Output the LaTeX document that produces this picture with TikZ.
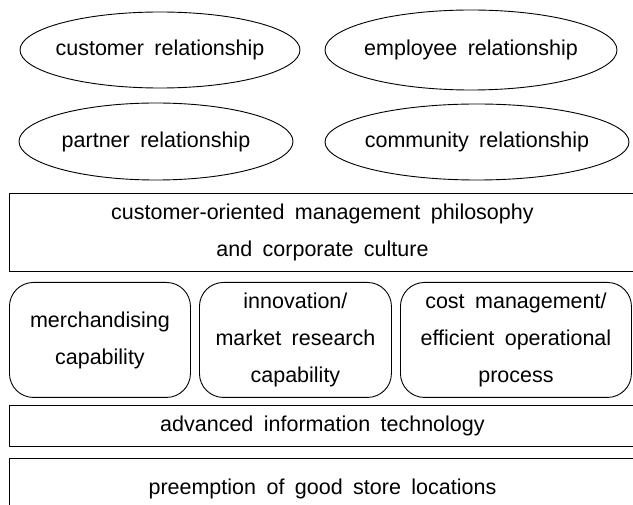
\documentclass[tikz,border=0pt]{standalone}
\usepackage{fontspec}
\setmainfont[WordSpace=1.75]{Liberation Sans}
\usetikzlibrary{shapes.geometric}
\begin{document}
\begin{tikzpicture}[x=1pt,y=-1pt,
  every node/.style={font=\fontsize{21.5}{37}\selectfont, inner sep=0pt},
  elli/.style={draw, line width=0.9pt, ellipse},
  band/.style={draw, line width=0.9pt, rectangle, anchor=north west, minimum width=626pt, align=center},
  capbox/.style={draw, line width=0.9pt, rectangle, rounded corners=24pt, anchor=north west, minimum height=115pt, align=center}
]
\useasboundingbox (0,0) rectangle (633,505);
\clip (0,0) rectangle (633,505);
\fill[white] (0,0) rectangle (633,505);

\node[elli, minimum width=280pt, minimum height=76pt] (cust) at (160,50) {\makebox[0pt]{customer relationship}};
\node[elli, minimum width=292pt, minimum height=80pt] (empl) at (471,50) {\makebox[0pt]{employee relationship}};
\node[elli, minimum width=274pt, minimum height=77pt] (part) at (156,141.5) {\makebox[0pt]{partner relationship}};
\node[elli, minimum width=304pt, minimum height=76pt] (comm) at (477,142) {\makebox[0pt]{community relationship}};

\node[band, minimum height=78pt] (phil) at (9,193) {customer-oriented management philosophy\\and corporate culture};

\node[capbox, minimum width=181pt] (merch) at (9,282) {merchandising\\capability};
\node[capbox, minimum width=192pt] (innov) at (199,282) {innovation/\\market research\\capability};
\node[capbox, minimum width=231pt] (cost) at (400,282) {cost management/\\efficient operational\\process};

\node[band, minimum height=41pt] (it) at (9,405) {advanced information technology};
\node[band, minimum height=60pt] (loc) at (9,458) {preemption of good store locations};
\end{tikzpicture}
\end{document}
